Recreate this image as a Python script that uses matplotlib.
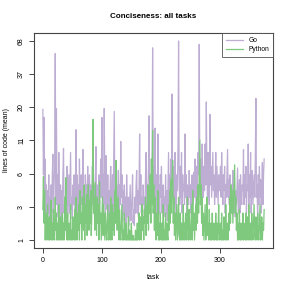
import numpy as np
import matplotlib
matplotlib.use("Agg")
import matplotlib.pyplot as plt

plt.rcParams['font.family'] = ['Liberation Sans', 'DejaVu Sans']

title = "Conciseness: all tasks"
xlabel = "task"
ylabel = "lines of code (mean)"
series_names = ["Go", "Python"]
colors = ["#BEAED4", "#7FC97F"]
x_ticks = [0, 100, 200, 300]
y_tick_labels = ["1", "3", "6", "11", "20", "37", "68"]

go = [
    19.7, 6, 17, 4, 8, 3, 5, 2.8, 4.5, 3, 6, 2.6, 4, 3.5, 5, 2.5, 6, 8.7, 3, 5,
    7, 54, 4, 20, 3.5, 6, 2.8, 9, 4, 3, 5, 2.5, 4.5, 3, 6, 9.7, 3, 4, 2.6, 5,
    3.5, 7, 2.8, 4, 6, 3, 5, 9, 3.2, 4, 2.7, 5, 3.5, 6, 4, 3, 13.6, 4, 6, 3,
    5, 2.8, 8, 4, 3, 6, 3.5, 5, 9.5, 3, 4.5, 2.6, 6, 3.5, 5, 4, 7, 3, 4.5, 6,
    3, 5, 2.8, 4, 7, 3.5, 5, 3, 4.5, 6, 10, 3, 5, 4, 3, 6, 3.5, 4.5, 8, 4,
    17, 4, 6, 3.5, 20, 5, 3, 8.5, 4, 3.2, 6, 2.8, 4.5, 3, 5, 7, 3.5, 4, 6, 3,
    8, 19, 4, 6, 3, 5, 2.8, 4, 6.5, 3, 5, 3.5, 11, 4, 6, 2.6, 4.5, 3, 5, 3,
    4, 2.5, 6, 3.5, 2.8, 4, 2.4, 3.5, 5, 2.6, 3, 4, 6, 2.5, 3.2, 2.4, 4, 3, 5, 6.5,
    3, 4.5, 2.8, 5, 12.6, 3.5, 6, 3, 4, 2.8, 5, 3.5, 4, 3, 6, 9, 3.5, 5, 4, 7,
    17.5, 4, 6, 3.5, 8, 5, 60, 4.5, 7, 3.2, 14, 5, 3, 6, 4, 12.6, 3.5, 5, 3, 6,
    4, 7, 3, 4.5, 5, 2.8, 4, 3.5, 6, 3, 4.5, 2.6, 5, 9, 3.5, 6, 4, 8, 5, 26,
    4, 7, 3.5, 5, 9, 4, 3, 6, 4.5, 10, 68, 5, 3.5, 7, 4, 9, 3, 6, 4.5, 5,
    3.5, 12.6, 4, 6, 3, 5, 4.5, 3.5, 6.5, 4, 5, 3, 4.5, 6, 3.5, 5, 6.3, 4, 8, 5,
    3.5, 7, 4.5, 9, 6, 64, 5, 4, 8, 3.5, 10.5, 5, 4, 7, 4.5, 10.5, 5, 22.5, 6, 4,
    9, 5, 3.5, 18, 5, 7, 4, 6, 9, 4.5, 6, 3.5, 5, 9, 4, 7, 5, 3.5, 6, 4.5,
    5, 7, 4, 9, 5, 3.5, 6, 4.5, 7, 3, 5, 4, 6, 9.5, 4, 5.5, 3.5, 6, 4, 5,
    3.5, 4.5, 6.5, 3, 5, 4, 2.8, 4.5, 3.5, 5, 6.8, 3, 4, 5.5, 3, 6, 4, 3.5, 5, 4.5,
    9.5, 3.5, 6, 4, 7, 3, 5, 4.5, 10.5, 3.5, 6, 4, 9, 3, 5, 6.5, 3.5, 4.5, 6, 4,
    8, 24, 4, 5, 2.6, 6, 3.5, 7, 4, 5.5, 3, 4.5, 7.5, 3.5, 6, 8,
]

python = [
    3.2, 5.8, 2.5, 4.5, 1.84, 3, 2.2, 1.84, 3.5, 2, 1.84, 2.8, 1.84, 2.3, 3.8, 1.84, 2.5, 1.84, 3.2, 2,
    1.84, 4, 2.2, 3, 1.84, 2.5, 1.84, 3.5, 2, 1.84, 2.8, 1.84, 2.2, 3, 1.84, 2.5, 1.84, 4, 2.2, 5.7,
    2, 1.84, 3, 1.84, 2.5, 2, 1.84, 3.5, 1.84, 2.2, 1.84, 2.8, 2, 1.84, 3.2, 1.84, 4, 2.2, 1.84, 3,
    2.2, 3.5, 1.84, 4.5, 2.5, 3, 1.84, 4, 2.8, 2.2, 5, 1.84, 3.5, 2.5, 4.2, 2, 3, 5, 2.2, 3.8,
    2.5, 4.5, 2, 3, 5.5, 16.4, 3, 4, 2.2, 5.2, 3, 2, 4, 2.5, 3.5, 1.84, 5.3, 2.5, 3, 1.84,
    2.8, 4, 2, 3.5, 2.5, 1.84, 3, 2.2, 1.84, 2.5, 3.5, 1.84, 2.2, 3, 1.84, 4, 2.5, 1.84, 3.5, 2.2,
    3, 2, 4.5, 2.5, 7.8, 3, 2.2, 4, 2.5, 1.84, 3.2, 2, 1.84, 2.5, 3.5, 1.84, 2.2, 1.84, 3, 2,
    1.84, 2.5, 1.84, 2, 1.84, 2.8, 1.84, 2.2, 1.84, 1.84, 2.5, 1.84, 1.84, 2, 1.84, 1.84, 1.84, 2.2, 1.84, 1.84,
    2.5, 1.84, 2.2, 3, 1.84, 2.8, 2, 1.84, 3.5, 2.2, 2.8, 1.84, 3.2, 2.5, 4, 2, 3.5, 2.5, 5, 2.2,
    4.5, 3, 6, 2.5, 8, 3.5, 13.5, 3, 5, 2.2, 4, 2.5, 1.84, 3, 2, 4.5, 1.84, 2.5, 1.84, 3,
    2, 1.84, 2.5, 1.84, 3.5, 1.84, 2.2, 1.84, 3, 1.84, 2.5, 2, 1.84, 3.5, 2.2, 4.5, 2.5, 5.5, 3, 6,
    7.8, 2.5, 4, 2, 3, 1.84, 2.5, 3.5, 1.84, 2.2, 4, 2, 1.84, 3, 1.84, 2.5, 1.84, 2.2, 3.5, 1.84,
    2.5, 1.84, 3, 2.2, 1.84, 4, 2.5, 1.84, 3.2, 2, 1.84, 2.5, 3.5, 1.84, 4.5, 2.2, 3, 1.84, 2.5, 3.5,
    2.2, 4, 2.5, 5, 3, 6, 11.3, 3.5, 5, 2.5, 4, 2, 3, 1.84, 2.5, 3.5, 1.84, 2.2, 4, 2,
    2.5, 1.84, 3.2, 2, 1.84, 2.5, 1.84, 3, 2.2, 1.84, 2.5, 1.84, 2, 3, 1.84, 2.5, 1.84, 2.2, 3.5, 1.84,
    2, 2.5, 1.84, 3, 1.84, 2.2, 1.84, 2.8, 2, 1.84, 3.5, 1.84, 2.2, 2.5, 1.84, 3, 2.2, 4, 2.5, 5,
    3, 4.5, 2.5, 3.5, 5, 7.2, 3, 4, 2.2, 3, 1.84, 2.5, 1.84, 3.2, 2, 1.84, 2.5, 1.84, 2.2, 3,
    1.84, 2.5, 2, 1.84, 3, 1.84, 2.2, 2.8, 1.84, 3.5, 2, 1.84, 2.5, 1.84, 3, 2.2, 1.84, 2.5, 3.5, 2,
    1.84, 2.8, 2.2, 1.84, 3, 2, 1.84, 2.5, 3.5, 1.84, 2.2, 2.8, 1.84, 2.5, 2.2, 3.2,
]

fig = plt.figure(figsize=(2.91, 2.91), dpi=100)
ax = fig.add_axes([34/291, 1 - 248/291, (273 - 34)/291, (248 - 33)/291])

for vals, name, col in zip([go, python], series_names, colors):
    ax.plot(np.arange(len(vals)), vals, color=col, lw=0.9, label=name)

ax.set_yscale('log')
allv = np.array(go + python)
lo, hi = np.log(allv.min()), np.log(allv.max())
yt = np.exp(np.linspace(lo, hi, len(y_tick_labels)))
ax.set_yticks(yt)
ax.set_yticklabels(y_tick_labels, rotation=90, va='center')
ax.yaxis.set_minor_locator(matplotlib.ticker.NullLocator())
pad = 0.04 * (hi - lo)
ax.set_ylim(np.exp(lo - pad), np.exp(hi + pad))
n = len(go)
ax.set_xlim(-0.04 * (n - 1), (n - 1) * 1.04)
ax.set_xticks(x_ticks)

for s in ax.spines.values():
    s.set_color('#444444')
    s.set_linewidth(0.8)
ax.tick_params(axis='both', labelsize=5, length=3.5, width=0.7, color='#444444', pad=3)

fig.text(153.5/291, 1 - 17/291, title, ha='center', va='center', fontsize=5.8, fontweight='bold')
ax.set_xlabel(xlabel, fontsize=5)
ax.xaxis.set_label_coords(0.5, (248 - 274)/215)
ax.set_ylabel(ylabel, fontsize=5)
ax.yaxis.set_label_coords((10.5 - 34)/239, 0.5)

leg = ax.legend(loc='upper right', fontsize=4.8, frameon=True, fancybox=False,
                borderaxespad=0, handlelength=2.6, borderpad=0.6, labelspacing=0.3,
                handletextpad=0.8)
leg.get_frame().set_edgecolor('#444444')
leg.get_frame().set_linewidth(0.7)

fig.savefig("out.png", dpi=100)
